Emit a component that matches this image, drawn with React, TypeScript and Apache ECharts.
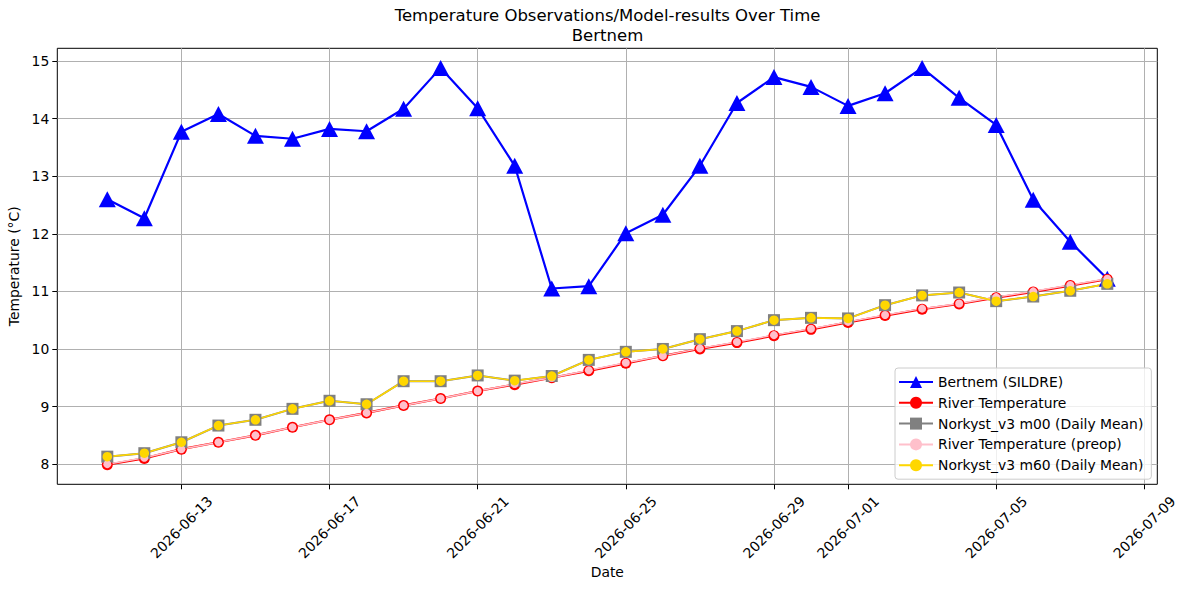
import React, { useEffect, useRef } from "react";
import * as echarts from "echarts";

// Daily dates (UTC)
const dates: string[] = [
  "2026-06-11", "2026-06-12", "2026-06-13", "2026-06-14", "2026-06-15", "2026-06-16", "2026-06-17",
  "2026-06-18", "2026-06-19", "2026-06-20", "2026-06-21", "2026-06-22", "2026-06-23", "2026-06-24",
  "2026-06-25", "2026-06-26", "2026-06-27", "2026-06-28", "2026-06-29", "2026-06-30", "2026-07-01",
  "2026-07-02", "2026-07-03", "2026-07-04", "2026-07-05", "2026-07-06", "2026-07-07", "2026-07-08",
];

// Observed temperature at Bertnem (SILDRE)
const bertnem: number[] = [
  12.6, 12.27, 13.77, 14.08, 13.7, 13.65, 13.82, 13.78, 14.17, 14.88, 14.18, 13.18, 11.05, 11.09,
  12.01, 12.33, 13.18, 14.27, 14.72, 14.55, 14.22, 14.44, 14.88, 14.36, 13.89, 12.59, 11.86, 11.22,
];

// River temperature
const riverTemp: number[] = [
  7.99, 8.1, 8.26, 8.38, 8.5, 8.64, 8.77, 8.89, 9.02, 9.14, 9.27, 9.38, 9.5, 9.62,
  9.75, 9.88, 10.0, 10.11, 10.23, 10.34, 10.46, 10.58, 10.69, 10.78, 10.89, 10.99, 11.1, 11.21,
];

// River temperature (preop)
const riverPreop: number[] = [
  8.0, 8.11, 8.26, 8.38, 8.5, 8.64, 8.77, 8.89, 9.02, 9.14, 9.27, 9.39, 9.5, 9.63,
  9.76, 9.88, 10.01, 10.12, 10.24, 10.35, 10.47, 10.59, 10.7, 10.79, 10.9, 11.0, 11.11, 11.22,
];

// Norkyst_v3 m00 daily mean
const norkystM00: number[] = [
  8.13, 8.19, 8.38, 8.67, 8.77, 8.96, 9.1, 9.04, 9.44, 9.44, 9.54, 9.45, 9.53, 9.81,
  9.95, 10.0, 10.17, 10.31, 10.5, 10.54, 10.53, 10.76, 10.93, 10.98, 10.83, 10.91, 11.01, 11.13,
];

// Norkyst_v3 m60 daily mean
const norkystM60: number[] = [
  8.13, 8.19, 8.38, 8.67, 8.77, 8.96, 9.1, 9.04, 9.44, 9.44, 9.54, 9.45, 9.53, 9.81,
  9.95, 10.0, 10.17, 10.31, 10.5, 10.54, 10.53, 10.76, 10.93, 10.98, 10.83, 10.91, 11.01, 11.13,
];

// Axis tick positions
const xTickDates: string[] = [
  "2026-06-13", "2026-06-17", "2026-06-21", "2026-06-25", "2026-06-29", "2026-07-01", "2026-07-05", "2026-07-09",
];
const yTicks: number[] = [8, 9, 10, 11, 12, 13, 14, 15];

const DAY = 86400000;
const toMs = (d: string) => {
  const [y, m, dd] = d.split("-").map(Number);
  return Date.UTC(y, m - 1, dd);
};
const fmt = (v: number) => {
  const d = new Date(v);
  const p = (n: number) => String(n).padStart(2, "0");
  return `${d.getUTCFullYear()}-${p(d.getUTCMonth() + 1)}-${p(d.getUTCDate())}`;
};

const FONT = "DejaVu Sans";
const FS = 13.9;

export default function App() {
  const ref = useRef<HTMLDivElement>(null);

  useEffect(() => {
    if (!ref.current) return;
    const chart = echarts.init(ref.current, undefined, { renderer: "svg" });
    const xs = dates.map(toMs);
    const pair = (vals: number[]) => vals.map((v, i) => [xs[i], v]);
    const xMin = xs[0] - 1.35 * DAY;
    const xMax = xs[xs.length - 1] + 1.35 * DAY;
    const xTicks = xTickDates.map(toMs);

    const lineSeries = (
      name: string,
      vals: number[],
      color: string,
      width: number,
      symbol: string,
      size: number | number[],
    ) => ({
      name,
      type: "line",
      data: pair(vals),
      symbol,
      symbolSize: size,
      showSymbol: true,
      lineStyle: { color, width },
      itemStyle: { color, borderWidth: 0, opacity: 1 },
      emphasis: { disabled: true },
    });

    const redSeries: any = lineSeries("River Temperature", riverTemp, "#ff0000", 2.2, "circle", 11);
    redSeries.itemStyle = { color: "#ff0000", borderColor: "#ff0000", borderWidth: 0 };

    chart.setOption({
      animation: false,
      textStyle: { fontFamily: FONT },
      grid: {
        left: 57.3,
        top: 48.3,
        right: 29.7,
        bottom: 105.7,
        show: true,
        borderColor: "#000",
        borderWidth: 1,
        containLabel: false,
        outerBoundsMode: "none",
      },
      graphic: [
        {
          type: "text",
          x: 607.5,
          y: 25.6,
          style: {
            text: "Temperature Observations/Model-results Over Time\nBertnem",
            font: `16.5px "${FONT}"`,
            lineHeight: 19.4,
            fill: "#000",
            textAlign: "center",
            textVerticalAlign: "middle",
          },
        },
      ],
      xAxis: {
        type: "value",
        min: xMin,
        max: xMax,
        name: "Date",
        nameLocation: "middle",
        nameGap: 81,
        nameMoveOverlap: false,
        nameTextStyle: { fontSize: FS, color: "#000", fontFamily: FONT },
        axisLine: { show: false },
        axisTick: { show: true, length: 5, lineStyle: { color: "#000", width: 1 }, customValues: xTicks },
        axisLabel: {
          customValues: xTicks,
          formatter: (v: number) => fmt(v),
          rotate: 45,
          align: "center",
          verticalAlign: "middle",
          margin: 43,
          fontSize: FS,
          color: "#000",
          fontFamily: FONT,
        },
        splitLine: { show: true, lineStyle: { color: "#b0b0b0", width: 1 } },
      },
      yAxis: {
        type: "value",
        min: 7.65,
        max: 15.22,
        name: "Temperature (°C)",
        nameLocation: "middle",
        nameGap: 34.3,
        nameTextStyle: { fontSize: FS, color: "#000", fontFamily: FONT },
        axisLine: { show: false },
        axisTick: { show: true, length: 5, lineStyle: { color: "#000", width: 1 }, customValues: yTicks },
        axisLabel: {
          customValues: yTicks,
          margin: 8,
          fontSize: FS,
          color: "#000",
          fontFamily: FONT,
        },
        splitLine: { show: true, lineStyle: { color: "#b0b0b0", width: 1 } },
      },
      legend: {
        orient: "vertical",
        left: 895,
        top: 368,
        padding: [7, 8, 7, 3],
        itemWidth: 34,
        itemHeight: 15,
        itemGap: 6.8,
        backgroundColor: "rgba(255,255,255,0.8)",
        borderColor: "#cccccc",
        borderWidth: 1,
        borderRadius: 3,
        textStyle: { fontSize: FS, color: "#000", fontFamily: FONT, padding: [0, 0, 0, 0] },
        data: [
          "Bertnem (SILDRE)",
          "River Temperature",
          "Norkyst_v3 m00 (Daily Mean)",
          "River Temperature (preop)",
          "Norkyst_v3 m60 (Daily Mean)",
        ],
      },
      series: [
        lineSeries("Bertnem (SILDRE)", bertnem, "#0000ff", 2.2, "triangle", [17, 16]),
        redSeries,
        lineSeries("Norkyst_v3 m00 (Daily Mean)", norkystM00, "#808080", 2, "rect", 12),
        lineSeries("River Temperature (preop)", riverPreop, "#ffc0cb", 1.5, "circle", 8),
        lineSeries("Norkyst_v3 m60 (Daily Mean)", norkystM60, "#ffd700", 1.6, "circle", 9.5),
      ],
    });
    return () => chart.dispose();
  }, []);

  return (
    <div
      ref={ref}
      style={{ position: "fixed", left: 0, top: 0, width: 1187, height: 590, background: "#fff" }}
    />
  );
}
